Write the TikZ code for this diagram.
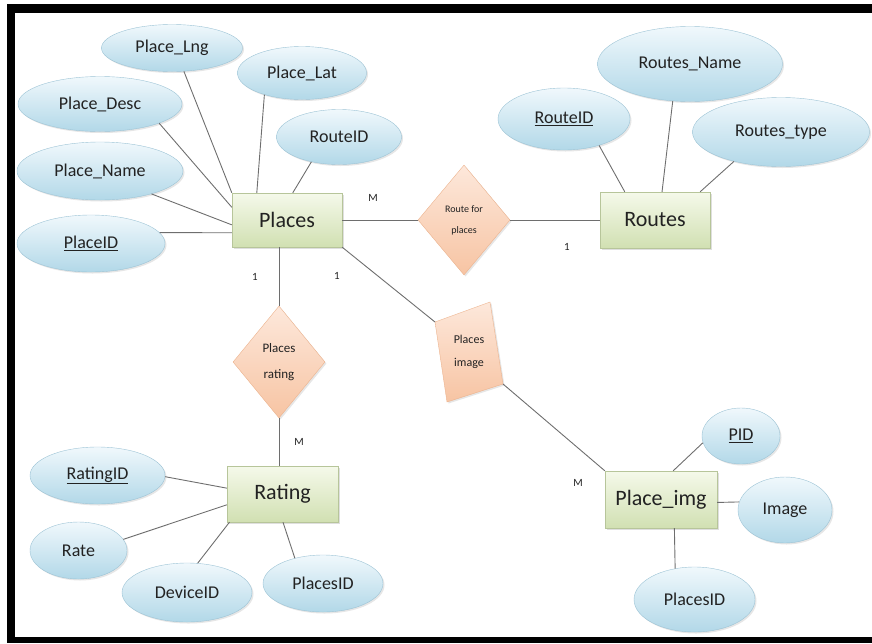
\documentclass[tikz,border=0pt]{standalone}
\usepackage{fontspec}
\setmainfont{Carlito}
\usepackage{xcolor}
\usetikzlibrary{shapes.geometric,shadows,calc}
\definecolor{entline}{HTML}{B7C59A}
\definecolor{enttop}{HTML}{F5F9EA}
\definecolor{entbot}{HTML}{D1E0B2}
\definecolor{attline}{HTML}{9CC3D5}
\definecolor{atttop}{HTML}{F0F8FC}
\definecolor{attbot}{HTML}{B2D8E8}
\definecolor{relline}{HTML}{ECB38E}
\definecolor{reltop}{HTML}{FDE8DB}
\definecolor{relbot}{HTML}{F7C4A3}
\definecolor{linkgray}{HTML}{6E6E6E}
\definecolor{inkgray}{HTML}{222222}
\tikzset{%
	entity/.style   = {draw=entline, rectangle, top color=enttop, bottom color=entbot, inner sep=0pt, text=inkgray, font=\fontsize{22}{24}\selectfont, text centered, drop shadow={opacity=0.25, shadow xshift=1.5pt, shadow yshift=-1.5pt}},
	attrib/.style   = {draw=attline, ellipse, top color=atttop, bottom color=attbot, inner sep=0pt, text=inkgray, font=\fontsize{18}{20}\selectfont, drop shadow={opacity=0.2, shadow xshift=1.5pt, shadow yshift=-1.5pt}},
	relation/.style = {draw=relline, diamond, top color=reltop, bottom color=relbot, inner sep=0pt, text=inkgray, align=center, drop shadow={opacity=0.2, shadow xshift=1.5pt, shadow yshift=-1.5pt}},
	link/.style     = {draw=linkgray, line width=0.9pt},
	card/.style     = {text=inkgray, font=\fontsize{11}{12}\selectfont},
}
\begin{document}
\begin{tikzpicture}[x=1pt,y=-1pt]
	\useasboundingbox (0,0) rectangle (872,643);
	% frame
	\fill[black] (7,4) rectangle (872,13);
	\fill[black] (7,4) rectangle (15,643);
	\fill[black] (7,637) rectangle (872,643);
	% entities
	\node[entity, minimum width=110pt, minimum height=54pt] (places) at (287,220) {Places};
	\node[entity, minimum width=110pt, minimum height=56pt] (routes) at (655,220) {Routes};
	\node[entity, minimum width=111pt, minimum height=56pt] (rating) at (282.5,494) {Rating};
	\node[entity, minimum width=112pt, minimum height=57pt] (pimg) at (661,499.5) {Place\_img};
	% relations
	\node[relation, minimum width=92pt, minimum height=110pt, font=\fontsize{10}{21}\selectfont] (rfp) at (464,220) {Route for\\places};
	\node[relation, minimum width=92pt, minimum height=112pt, font=\fontsize{13}{26}\selectfont] (prate) at (279,362) {Places\\rating};
	\coordinate (pimA) at (435,322);
	\coordinate (pimB) at (490,302);
	\coordinate (pimC) at (503,384);
	\coordinate (pimD) at (447,402);
	\draw[draw=relline, top color=reltop, bottom color=relbot, drop shadow={opacity=0.2, shadow xshift=1.5pt, shadow yshift=-1.5pt}] (pimA) -- (pimB) -- (pimC) -- (pimD) -- cycle;
	\node[text=inkgray, align=center, font=\fontsize{12}{23}\selectfont] (pimage) at (469,352) {Places\\image};
	% attributes of Places
	\node[attrib, minimum width=141pt, minimum height=47pt] (plng) at (172,48) {Place\_Lng};
	\node[attrib, minimum width=129pt, minimum height=53pt] (plat) at (302,73) {Place\_Lat};
	\node[attrib, minimum width=164pt, minimum height=55pt] (pdesc) at (100,104) {Place\_Desc};
	\node[attrib, minimum width=125pt, minimum height=55pt] (prid) at (339,137) {RouteID};
	\node[attrib, minimum width=166pt, minimum height=58pt] (pname) at (100,171) {Place\_Name};
	\node[attrib, minimum width=148pt, minimum height=57pt] (ppid) at (91,243.5) {\underline{PlaceID}};
	% attributes of Routes
	\node[attrib, minimum width=132pt, minimum height=62pt] (rrid) at (564,119) {\underline{RouteID}};
	\node[attrib, minimum width=185pt, minimum height=75pt] (rname) at (690,64) {Routes\_Name};
	\node[attrib, minimum width=177pt, minimum height=69pt] (rtype) at (781,132) {Routes\_type};
	% attributes of Rating
	\node[attrib, minimum width=135pt, minimum height=57pt] (ratid) at (97.5,475.5) {\underline{RatingID}};
	\node[attrib, minimum width=97pt, minimum height=57pt] (rate) at (78.5,550.5) {Rate};
	\node[attrib, minimum width=130pt, minimum height=59pt] (devid) at (187,592.5) {DeviceID};
	\node[attrib, minimum width=120pt, minimum height=57pt] (rplid) at (323,583.5) {PlacesID};
	% attributes of Place_img
	\node[attrib, minimum width=78pt, minimum height=56pt] (ipid) at (741,436) {\underline{PID}};
	\node[attrib, minimum width=94pt, minimum height=66pt] (image) at (785,510) {Image};
	\node[attrib, minimum width=121pt, minimum height=65pt] (iplid) at (694.5,599.5) {PlacesID};
	% links
	\draw[link] (plng.297) -- (places.north west);
	\draw[link] (plat.210) -- (places.138);
	\draw[link] (prid.222) -- (places.78);
	\draw[link] (pdesc.342) -- (places.167);
	\draw[link] (pname.336) -- (places.185);
	\draw[link] (ppid.9) -- (places.193);
	\draw[link] (rrid.323) -- (routes.137);
	\draw[link] (rname.245) -- (routes.76);
	\draw[link] (rtype.212) -- (routes.32);
	\draw[link] (places.east) -- (rfp.west);
	\draw[link] (rfp.east) -- (routes.west);
	\draw[link] (prate.north) -- (prate.north |- places.south);
	\draw[link] (prate.south) -- (prate.south |- rating.north);
	\draw[link] (places.south east) -- (pimA);
	\draw[link] (pimC) -- (pimg.north west);
	\draw[link] (ratid.359) -- (rating.174);
	\draw[link] (rate.14) -- (rating.191);
	\draw[link] (devid.70) -- (rating.208);
	\draw[link] (rplid.138) -- (rating.271);
	\draw[link] (ipid.190) -- (pimg.67);
	\draw[link] (image.170) -- (pimg.357);
	\draw[link] (iplid.122) -- (pimg.295);
	% cardinalities
	\node[card] (cm1) at (373,198) {M};
	\node[card] (c1a) at (567,247) {1};
	\node[card] (c1b) at (255,277) {1};
	\node[card] (c1c) at (337,276) {1};
	\node[card] (cm2) at (299,442) {M};
	\node[card] (cm3) at (578,483) {M};
\end{tikzpicture}
\end{document}
